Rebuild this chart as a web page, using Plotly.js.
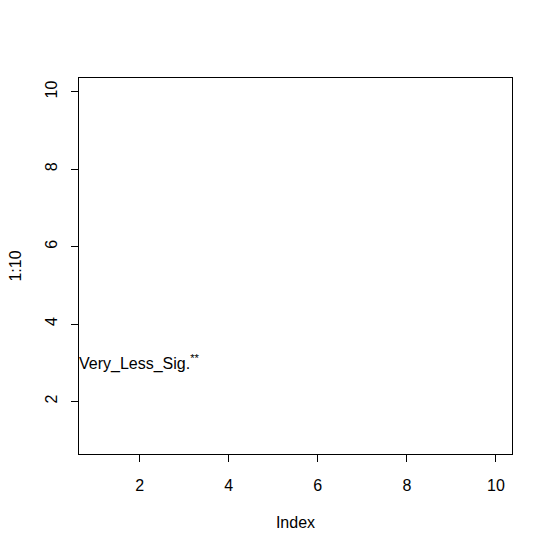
<!DOCTYPE html>
<html>
<head>
<meta charset="utf-8">
<script src="https://cdn.plot.ly/plotly-3.0.1.min.js"></script>
<style>html,body{margin:0;padding:0;background:#fff;}#chart{width:553px;height:552px;}</style>
</head>
<body>
<div id="chart"></div>
<script>
var indexValues = [1, 2, 3, 4, 5, 6, 7, 8, 9, 10];
var seriesValues = [1, 2, 3, 4, 5, 6, 7, 8, 9, 10];
var tickValues = [2, 4, 6, 8, 10];
var labelText = "Very_Less_Sig.";
var labelSup = "**";
var labelX = 2;
var labelY = 3;

var font = {family: "Liberation Sans, Arial, sans-serif", size: 16, color: "#000"};

var trace = {
  x: indexValues,
  y: seriesValues,
  type: "scatter",
  mode: "markers",
  marker: {opacity: 0},
  hoverinfo: "none",
  showlegend: false
};

var layout = {
  width: 553,
  height: 552,
  margin: {l: 79, r: 41, t: 78, b: 98, pad: 0},
  paper_bgcolor: "#fff",
  plot_bgcolor: "#fff",
  font: font,
  xaxis: {
    range: [0.64, 10.36],
    tickvals: tickValues,
    ticks: "outside",
    ticklen: 7,
    tickwidth: 1,
    tickcolor: "#000",
    showline: true,
    mirror: true,
    linecolor: "#000",
    linewidth: 1,
    showgrid: false,
    zeroline: false,
    tickfont: font,
    ticklabelstandoff: 10,
    title: {text: "Index", font: font, standoff: 23}
  },
  yaxis: {
    range: [0.64, 10.36],
    tickvals: tickValues,
    ticks: "outside",
    ticklen: 7,
    tickwidth: 1,
    tickcolor: "#000",
    showline: true,
    mirror: true,
    linecolor: "#000",
    linewidth: 1,
    showgrid: false,
    zeroline: false,
    tickangle: -90,
    tickfont: font,
    ticklabelstandoff: 8,
    title: {text: "1:10", font: font, standoff: 16}
  },
  annotations: [{
    x: labelX,
    y: labelY,
    xref: "x",
    yref: "y",
    text: labelText + "<sup>" + labelSup + "</sup>",
    showarrow: false,
    xanchor: "center",
    yanchor: "middle",
    font: font
  }]
};

Plotly.newPlot("chart", [trace], layout, {staticPlot: true, displayModeBar: false});
</script>
</body>
</html>
